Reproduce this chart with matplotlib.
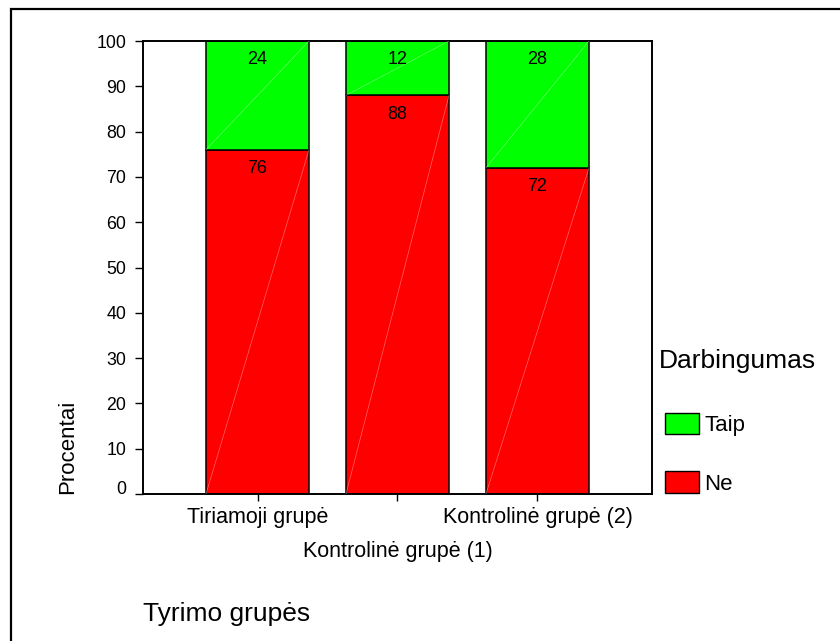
import matplotlib.pyplot as plt
import matplotlib.transforms as mtransforms
from matplotlib.patches import Patch, Rectangle

plt.rcParams['font.family'] = ['Liberation Sans', 'DejaVu Sans']

groups = ['Tiriamoji grupė', 'Kontrolinė grupė (1)', 'Kontrolinė grupė (2)']
ne = [76, 88, 72]
taip = [24, 12, 28]
yticks = [0, 10, 20, 30, 40, 50, 60, 70, 80, 90, 100]

red = '#ff0000'
green = '#00ff00'

W, H = 840, 641
fig = plt.figure(figsize=(W / 100, H / 100), dpi=100)
ax = fig.add_axes([143 / W, 1 - 494 / H, 509 / W, 453 / H])

x = range(len(groups))
width = 0.736
b1 = ax.bar(x, ne, width, color=red, edgecolor='black', linewidth=1.1)
b2 = ax.bar(x, taip, width, bottom=ne, color=green, edgecolor='black', linewidth=1.1)

# thin white diagonal in every segment
for bars in (b1, b2):
    for r in bars:
        x0, y0 = r.get_x(), r.get_y()
        ax.plot([x0, x0 + r.get_width()], [y0, y0 + r.get_height()],
                color='white', lw=0.5, alpha=0.4, zorder=3)

# value labels near the top of each segment
for bars, vals in ((b1, ne), (b2, taip)):
    for r, v in zip(bars, vals):
        ax.annotate(str(v), (r.get_x() + r.get_width() / 2, r.get_y() + r.get_height()),
                    xytext=(0, -19), textcoords='offset pixels',
                    ha='center', va='center', fontsize=13, zorder=4)

ax.set_xlim(-0.818, 2.818)
ax.set_ylim(0, 100)
ax.set_yticks(yticks)
ax.set_xticks(list(x))
ax.set_xticklabels(groups, fontsize=15.5)
ax.tick_params(axis='y', labelsize=12.8, direction='out', length=6, width=1, pad=6)
ax.tick_params(axis='x', direction='out', length=5, width=1, pad=4)
for s in ax.spines.values():
    s.set_linewidth(1.4)

# staggered middle label
mid = ax.get_xticklabels()[1]
mid.set_transform(mid.get_transform() +
                  mtransforms.ScaledTranslation(0, -0.34, fig.dpi_scale_trans))
zero = ax.get_yticklabels()[0]
zero.set_transform(zero.get_transform() +
                   mtransforms.ScaledTranslation(0, 0.07, fig.dpi_scale_trans))

fig.text(68 / W, 1 - 494 / H, 'Procentai', rotation=90, ha='center', va='bottom', fontsize=16)
fig.text(143 / W, 1 - 621 / H, 'Tyrimo grupės', ha='left', va='baseline', fontsize=19)

# legend
fig.text(659 / W, 1 - 361 / H, 'Darbingumas', ha='left', va='center', fontsize=19)
handles = [Patch(facecolor=green, edgecolor='black', label='Taip'),
           Patch(facecolor=red, edgecolor='black', label='Ne')]
leg = fig.legend(handles=handles, loc='upper left',
                 bbox_to_anchor=(649 / W, 1 - 397 / H), frameon=False,
                 fontsize=16, handlelength=1.55, handleheight=1.1,
                 handletextpad=0.25, labelspacing=1.6, borderpad=0.2)

# outer frame
fig.patches.append(Rectangle((10.5 / W, -0.1), 1.2, 1.1 - 9 / H, transform=fig.transFigure,
                             fill=False, edgecolor='black', linewidth=1.6))

fig.savefig('out.png', dpi=100)
